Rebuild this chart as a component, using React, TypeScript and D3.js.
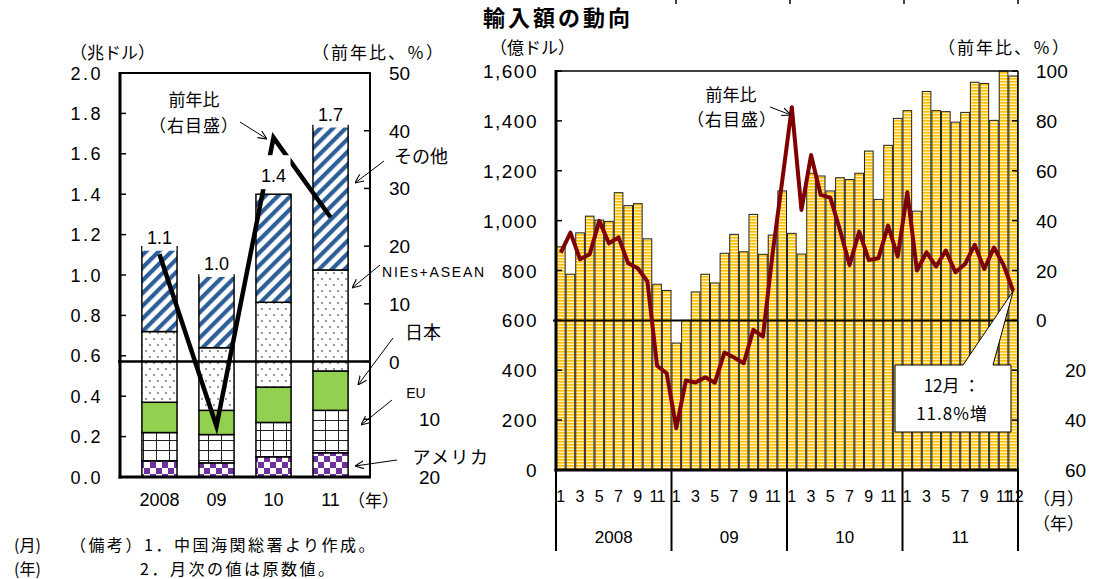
import React from 'react';
import * as d3 from 'd3';

// annual imports by origin, trillion USD (stacked bottom -> top)
const years = ['2008', '09', '10', '11'];
const totalLabels = ['1.1', '1.0', '1.4', '1.7'];
const usa = [0.08, 0.07, 0.1, 0.12];
const eu = [0.14, 0.14, 0.17, 0.21];
const japan = [0.15, 0.12, 0.175, 0.195];
const niesAsean = [0.35, 0.31, 0.42, 0.5];
const others = [0.42, 0.36, 0.535, 0.715];
const annualYoy = [18.6, -11.2, 38.8, 25.0];

// monthly imports, 100 million USD, Jan 2008 - Dec 2011
const monthlyImports = [
  895, 785, 951, 1018, 1002, 997, 1112, 1060, 1068, 927, 745, 720,
  509, 600, 714, 785, 750, 869, 945, 875, 1025, 865, 942, 1119,
  949, 866, 1190, 1179, 1119, 1172, 1165, 1190, 1279, 1085, 1302, 1410,
  1441, 1038, 1518, 1441, 1437, 1395, 1434, 1555, 1550, 1402, 1600, 1580,
];
// monthly year-on-year change, %
const monthlyYoy = [
  27.2, 35.2, 24.5, 26.5, 39.9, 30.9, 33.3, 22.9, 20.9, 15.6, -18.2, -21.2,
  -43.2, -24.1, -24.9, -22.8, -25.0, -12.9, -14.9, -17.2, -3.8, -6.5, 26.7, 55.9,
  85.5, 44.3, 66.3, 50.3, 49.2, 36.3, 22.2, 35.6, 24.2, 24.9, 38.0, 25.6,
  51.4, 20.0, 27.3, 21.6, 28.0, 19.3, 22.6, 30.3, 20.6, 29.2, 22.2, 11.8,
];
const monthLabels = ['1', '2', '3', '4', '5', '6', '7', '8', '9', '10', '11', '12'];

const leftTicks = [0, 0.2, 0.4, 0.6, 0.8, 1.0, 1.2, 1.4, 1.6, 1.8, 2.0];
const leftPctTicks = [-20, -10, 0, 10, 20, 30, 40, 50];
const rightTicks = [0, 200, 400, 600, 800, 1000, 1200, 1400, 1600];
const rightPctTicks = [-60, -40, -20, 0, 20, 40, 60, 80, 100];

const jp = '"Noto Sans CJK JP", "Noto Sans", sans-serif';
const num = '"Liberation Sans", Arial, sans-serif';

const keys = ['usa', 'eu', 'japan', 'nies', 'others'];
const fills: Record<string, string> = {
  usa: 'url(#checker)',
  eu: 'url(#grid)',
  japan: '#92d050',
  nies: 'url(#dots)',
  others: 'url(#stripe)',
};

export default function App() {
  // ---- left panel ----
  const xL = d3.scaleBand<string>().domain(years).range([120, 370]).padding(0.384);
  const yL = d3.scaleLinear().domain([0, 2]).range([477, 73]);
  const yLP = d3.scaleLinear().domain([-20, 50]).range([477, 73]);
  const table = years.map((y, i) => ({
    year: y,
    usa: usa[i],
    eu: eu[i],
    japan: japan[i],
    nies: niesAsean[i],
    others: others[i],
  }));
  const stacked = d3.stack<any>().keys(keys)(table);
  const cx = (i: number) => xL(years[i])! + xL.bandwidth() / 2;
  const lineL = d3
    .line<number>()
    .x((_, i) => cx(i))
    .y((d) => yLP(d));
  const labelLift = [3, 5, 12, 5];

  // ---- right panel ----
  const idx = monthlyImports.map((_, i) => i);
  const xR = d3.scaleBand<number>().domain(idx).range([556, 1018]).paddingInner(0.1).paddingOuter(0.05);
  const yR = d3.scaleLinear().domain([0, 1600]).range([470, 71]);
  const yRP = d3.scaleLinear().domain([-60, 100]).range([470, 71]);
  const mx = (i: number) => xR(i)! + xR.bandwidth() / 2;
  const lineR = d3
    .line<number>()
    .x((_, i) => mx(i))
    .y((d) => yRP(d));
  const yearEdge = (k: number) => xR.range()[0] + k * 12 * xR.step();
  const last = monthlyYoy.length - 1;
  const tipX = mx(last);
  const tipY = yRP(monthlyYoy[last]);

  return (
    <svg
      width={1104}
      height={579}
      style={{ position: 'absolute', left: 0, top: 0, background: '#fff' }}
    >
      <defs>
        <pattern id="stripe" patternUnits="userSpaceOnUse" width="9" height="9" patternTransform="rotate(45)">
          <rect width="9" height="9" fill="#fff" />
          <rect width="4.2" height="9" fill="#2f5f98" />
        </pattern>
        <pattern id="dots" patternUnits="userSpaceOnUse" width="8" height="12">
          <rect width="8" height="12" fill="#fff" />
          <circle cx="2" cy="3" r="0.9" fill="#666" />
          <circle cx="6" cy="9" r="0.9" fill="#666" />
        </pattern>
        <pattern id="grid" patternUnits="userSpaceOnUse" width="13" height="10">
          <rect width="13" height="10" fill="#fff" />
          <path d="M0,0.5H13M0.5,0V10" stroke="#222" strokeWidth="1" />
        </pattern>
        <pattern id="checker" patternUnits="userSpaceOnUse" width="12" height="12">
          <rect width="12" height="12" fill="#fff" />
          <rect width="6" height="6" fill="#7030a0" />
          <rect x="6" y="6" width="6" height="6" fill="#7030a0" />
        </pattern>
        <pattern id="hstripe" patternUnits="userSpaceOnUse" width="4" height="3">
          <rect width="4" height="3" fill="#fff2bd" />
          <rect width="4" height="1.6" fill="#ffc000" />
        </pattern>
        <marker id="arr" viewBox="0 0 10 10" refX="10" refY="5" markerWidth="9" markerHeight="9" markerUnits="userSpaceOnUse" orient="auto">
          <path d="M0,0.5L10,5L0,9.5" fill="none" stroke="#000" strokeWidth="1.2" />
        </marker>
      </defs>

      {/* fragments of the panel above, cut off */}
      {[1, 2, 3, 4].map((k) => (
        <line key={k} x1={yearEdge(k) + 6 - k * 1.5} x2={yearEdge(k) + 6 - k * 1.5} y1={0} y2={4} stroke="#000" strokeWidth={1.5} />
      ))}

      {/* ================= left panel ================= */}
      <text x={70} y={59} fontFamily={jp} fontSize={17}>（兆ドル）</text>
      <text x={312} y={59} fontFamily={jp} fontSize={17} letterSpacing={2}>（前年比、％）</text>

      {stacked.map((layer) => (
        <g key={layer.key}>
          {layer.map((d, i) => (
            <rect
              key={i}
              x={xL(years[i])}
              y={yL(d[1])}
              width={xL.bandwidth()}
              height={yL(d[0]) - yL(d[1])}
              fill={fills[layer.key]}
              stroke="#000"
              strokeWidth={1.5}
            />
          ))}
        </g>
      ))}

      <line x1={118} x2={370} y1={yLP(0)} y2={yLP(0)} stroke="#000" strokeWidth={2.5} />
      <path d={lineL(annualYoy) || ''} fill="none" stroke="#000" strokeWidth={4.5} strokeLinejoin="miter" />

      {totalLabels.map((t, i) => {
        const top = yL(usa[i] + eu[i] + japan[i] + niesAsean[i] + others[i]) - labelLift[i];
        return (
          <g key={t}>
            <rect x={cx(i) - 17} y={top - 27} width={34} height={34} fill="#fff" />
            <text x={cx(i)} y={top} textAnchor="middle" fontFamily={num} fontSize={18}>{t}</text>
          </g>
        );
      })}

      {/* frame */}
      <rect x={120} y={73} width={250} height={404} fill="none" stroke="#000" strokeWidth={2} />
      <line x1={120} x2={120} y1={72} y2={478.5} stroke="#000" strokeWidth={3} />
      <line x1={118.5} x2={371} y1={477} y2={477} stroke="#000" strokeWidth={3} />

      {leftTicks.map((t) => (
        <g key={t}>
          <line x1={120} x2={126} y1={yL(t)} y2={yL(t)} stroke="#000" strokeWidth={1.5} />
          <text x={103} y={yL(t) + 6.5} textAnchor="end" fontFamily={num} fontSize={18} letterSpacing={2.5}>
            {t.toFixed(1)}
          </text>
        </g>
      ))}
      {leftPctTicks.map((t) => (
        <g key={t}>
          <line x1={364} x2={370} y1={yLP(t)} y2={yLP(t)} stroke="#000" strokeWidth={1.5} />
          <text x={t < 0 ? 419 : 389} y={yLP(t) + 7} fontFamily={num} fontSize={19}>
            {Math.abs(t)}
          </text>
        </g>
      ))}

      {years.map((y, i) => (
        <text key={y} x={cx(i)} y={506} textAnchor="middle" fontFamily={num} fontSize={18}>{y}</text>
      ))}
      <text x={348} y={507} fontFamily={jp} fontSize={17}>（年）</text>

      {/* annotations */}
      <text x={194} y={106} textAnchor="middle" fontFamily={jp} fontSize={17}>前年比</text>
      <text x={194} y={132} textAnchor="middle" fontFamily={jp} fontSize={17} letterSpacing={1}>（右目盛）</text>
      <line x1={240} y1={122} x2={267} y2={139} stroke="#000" strokeWidth={1} markerEnd="url(#arr)" />

      <text x={421} y={163} textAnchor="middle" fontFamily={jp} fontSize={18}>その他</text>
      <line x1={384} y1={161} x2={355} y2={183} stroke="#000" strokeWidth={1} markerEnd="url(#arr)" />

      <text x={434} y={277} textAnchor="middle" fontFamily={num} fontSize={14} letterSpacing={1.8}>NIEs+ASEAN</text>
      <line x1={380} y1={265} x2={352} y2={288} stroke="#000" strokeWidth={1} markerEnd="url(#arr)" />

      <text x={423} y={339} textAnchor="middle" fontFamily={jp} fontSize={18}>日本</text>
      <line x1={393} y1={338} x2={358} y2={385} stroke="#000" strokeWidth={1} markerEnd="url(#arr)" />

      <text x={416} y={398} textAnchor="middle" fontFamily={num} fontSize={14}>EU</text>
      <line x1={392} y1={400} x2={361} y2={425} stroke="#000" strokeWidth={1} markerEnd="url(#arr)" />

      <text x={451} y={464} textAnchor="middle" fontFamily={jp} fontSize={18} letterSpacing={1.5}>アメリカ</text>
      <line x1={397} y1={460} x2={355} y2={466} stroke="#000" strokeWidth={1} markerEnd="url(#arr)" />

      {/* ================= right panel ================= */}
      <text x={483} y={26} fontFamily={jp} fontSize={22} fontWeight="bold" letterSpacing={3}>輸入額の動向</text>
      <text x={490} y={54} fontFamily={jp} fontSize={17}>（億ドル）</text>
      <text x={938} y={54} fontFamily={jp} fontSize={17} letterSpacing={2}>（前年比、％）</text>

      {monthlyImports.map((v, i) => (
        <rect
          key={i}
          x={xR(i)}
          y={yR(v)}
          width={xR.bandwidth()}
          height={yR(0) - yR(v)}
          fill="url(#hstripe)"
          stroke="#222"
          strokeWidth={1}
        />
      ))}

      <line x1={553} x2={1018} y1={yRP(0)} y2={yRP(0)} stroke="#000" strokeWidth={2} />
      <path d={lineR(monthlyYoy) || ''} fill="none" stroke="#7f0000" strokeWidth={4} strokeLinejoin="round" />

      {/* callout for the last month */}
      <path
        d={`M895,365L963,365L${tipX},${tipY}L993,365L1011,365L1011,432L895,432Z`}
        fill="#fff"
        stroke="#000"
        strokeWidth={1}
      />
      <text x={952} y={392} textAnchor="middle" fontFamily={jp} fontSize={17}>12月 ：</text>
      <text x={952} y={420} textAnchor="middle" fontFamily={jp} fontSize={17} letterSpacing={1}>11.8%増</text>

      {/* frame */}
      <line x1={556} x2={1018} y1={71} y2={71} stroke="#000" strokeWidth={1.5} />
      <line x1={1018} x2={1018} y1={71} y2={470} stroke="#000" strokeWidth={1.5} />
      <line x1={556} x2={556} y1={70} y2={471.5} stroke="#000" strokeWidth={3} />
      <line x1={554.5} x2={1019} y1={470} y2={470} stroke="#000" strokeWidth={3} />

      {rightTicks.map((t) => (
        <g key={t}>
          <line x1={556} x2={562} y1={yR(t)} y2={yR(t)} stroke="#000" strokeWidth={1.5} />
          <text x={538} y={yR(t) + 7} textAnchor="end" fontFamily={num} fontSize={19} letterSpacing={1.5}>
            {d3.format(',')(t)}
          </text>
        </g>
      ))}
      {rightPctTicks.map((t) => (
        <g key={t}>
          <line x1={1012} x2={1018} y1={yRP(t)} y2={yRP(t)} stroke="#000" strokeWidth={1.5} />
          <text x={t < 0 ? 1065 : 1036} y={yRP(t) + 7} fontFamily={num} fontSize={19}>
            {Math.abs(t)}
          </text>
        </g>
      ))}

      {/* month / year axis */}
      {idx.map((i) => {
        const m = i % 12;
        if (m % 2 === 1 && i !== last) return null;
        return (
          <text
            key={i}
            x={i === last ? mx(i) + 1.5 : mx(i)}
            y={502}
            textAnchor="middle"
            fontFamily={num}
            fontSize={16}
            letterSpacing={m >= 9 ? -0.8 : 0}
          >
            {monthLabels[m]}
          </text>
        );
      })}
      {[0, 1, 2, 3, 4].map((k) => (
        <line key={k} x1={yearEdge(k)} x2={yearEdge(k)} y1={470} y2={551} stroke="#000" strokeWidth={2} />
      ))}
      {years.map((y, k) => (
        <text key={y} x={(yearEdge(k) + yearEdge(k + 1)) / 2} y={543} textAnchor="middle" fontFamily={num} fontSize={17}>
          {y}
        </text>
      ))}
      <text x={1033} y={505} fontFamily={jp} fontSize={17}>（月）</text>
      <text x={1033} y={530} fontFamily={jp} fontSize={17}>（年）</text>

      <text x={731} y={101} textAnchor="middle" fontFamily={jp} fontSize={17}>前年比</text>
      <text x={732} y={126} textAnchor="middle" fontFamily={jp} fontSize={17} letterSpacing={1}>（右目盛）</text>
      <line x1={770} y1={107} x2={791} y2={115} stroke="#000" strokeWidth={1} markerEnd="url(#arr)" />

      {/* notes */}
      <text x={14} y={551} fontFamily={jp} fontSize={16}>(月)</text>
      <text x={14} y={575} fontFamily={jp} fontSize={16}>(年)</text>
      <text x={70} y={551} fontFamily={jp} fontSize={16} letterSpacing={2.5}>（備考）1．中国海関総署より作成。</text>
      <text x={140} y={575} fontFamily={jp} fontSize={16} letterSpacing={2.5}>2．月次の値は原数値。</text>
    </svg>
  );
}
